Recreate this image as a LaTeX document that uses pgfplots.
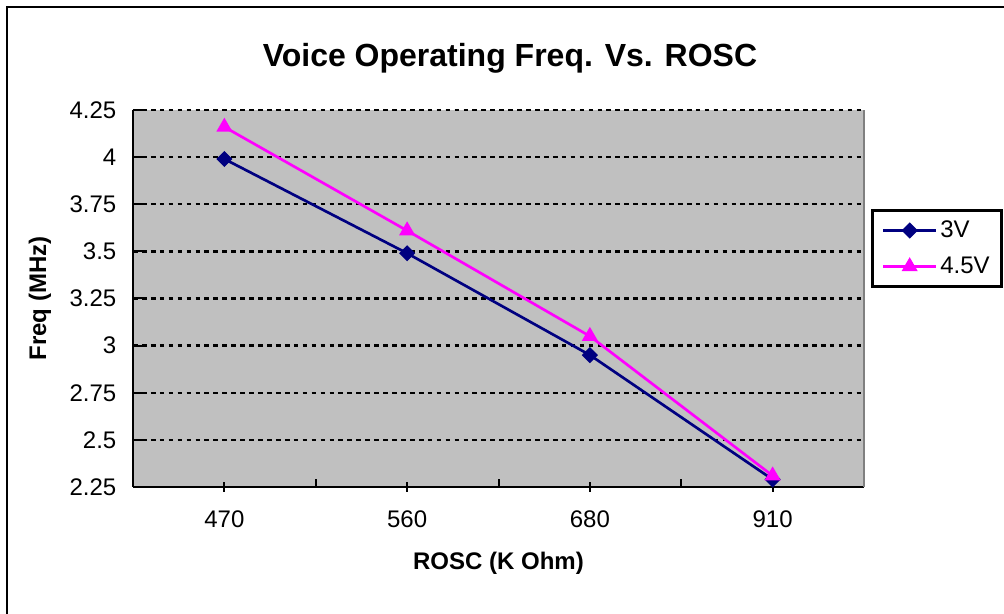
\documentclass[border=0pt]{standalone}
\usepackage{pgfplots}
\pgfplotsset{compat=1.18}
\usepackage{fontspec}
\setmainfont{Liberation Sans}
\definecolor{plotgray}{HTML}{C0C0C0}
\definecolor{navy3v}{HTML}{000080}
\definecolor{mag45}{HTML}{FF00FF}
\begin{document}
\begin{tikzpicture}[x=0.75pt,y=0.75pt]
\useasboundingbox (0,0) rectangle (1004,614);
\draw[line width=2pt] (7,-20) -- (7,607) -- (1030,607);
\node[font=\fontsize{24}{28}\selectfont\bfseries] at (510,556) {Voice Operating Freq. Vs. ROSC};
\begin{axis}[
  at={(133*0.75pt,127*0.75pt)}, anchor=south west,
  scale only axis, width=548.25pt, height=282.75pt,
  xmin=0, xmax=4, ymin=2.25, ymax=4.25,
  axis x line*=bottom, axis y line*=left,
  axis line style={black, line width=2pt},
  axis background/.style={fill=plotgray},
  xtick={0.5,1.5,2.5,3.5},
  xticklabels={470,560,680,910},
  extra x ticks={0,1,2,3,4},
  extra x tick labels={},
  extra x tick style={tick align=inside, major tick length=6pt, grid=none},
  xtick align=center,
  ytick={2.25,2.5,2.75,3,3.25,3.5,3.75,4,4.25},
  ytick align=inside,
  major tick length=7pt,
  tick style={black, line width=1.5pt},
  ymajorgrids,
  grid style={black, line width=1.8pt, dash pattern=on 3.5pt off 3.2pt},
  /pgf/number format/assume math mode=true,
  tick label style={font=\fontsize{18}{20}\selectfont},
  xticklabel style={yshift=-11pt},
  yticklabel style={xshift=-9pt},
  xlabel={ROSC (K Ohm)},
  ylabel={Freq (MHz)},
  xlabel style={font=\fontsize{18}{20}\selectfont\bfseries, at={(axis description cs:0.5,-0.2016)}, anchor=center},
  ylabel style={font=\fontsize{18}{20}\selectfont\bfseries, at={(axis description cs:-0.1272,0.5)}, anchor=center},
  legend style={at={(axis description cs:1.0096,0.737)}, anchor=north west,
    draw=black, line width=2pt, fill=white,
    font=\fontsize{18}{20}\selectfont, row sep=9pt,
    inner xsep=7pt, inner ysep=6pt},
  legend cell align=left,
  legend image code/.code={\draw[mark repeat=2,mark phase=2,#1] plot coordinates {(0pt,0pt) (20pt,0pt) (40pt,0pt)};},
  clip=false,
]
\addplot[color=navy3v, line width=2pt, mark=square*, mark size=3.8pt, mark options={rotate=45, solid, line width=1pt}]
  coordinates {(0.5,3.99) (1.5,3.49) (2.5,2.95) (3.5,2.29)};
\addlegendentry{3V}
\addplot[color=mag45, line width=2pt, mark=triangle*, mark size=6pt, mark options={solid, line width=1pt}]
  coordinates {(0.5,4.16) (1.5,3.61) (2.5,3.05) (3.5,2.31)};
\addlegendentry{4.5V}
\draw[color=gray, line width=2pt] (rel axis cs:1,0) -- (rel axis cs:1,1);
\end{axis}
\end{tikzpicture}
\end{document}
